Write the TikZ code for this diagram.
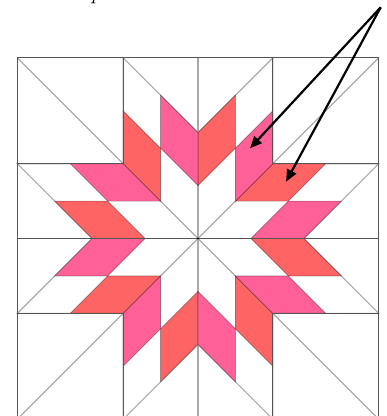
\documentclass[tikz,border=0pt]{standalone}
\usepackage{tikz}
\usetikzlibrary{arrows.meta}
\definecolor{corail}{RGB}{255,100,100}
\definecolor{rose}{RGB}{255,96,152}
\definecolor{couture}{RGB}{85,85,85}
\definecolor{rayon}{RGB}{170,170,170}

\begin{document}
\begin{tikzpicture}[x=52.9pt, y=52.9pt,
    seamline/.style={couture, line width=0.9pt},
    spokeline/.style={rayon, line width=1.1pt},
    patch/.style={draw=black, draw opacity=0.35, line width=0.7pt},
    pointer/.style={line width=2.2pt, -{Triangle[length=12pt, width=10pt]}}]
  \useasboundingbox (-3.743,-3.355) rectangle (3.554,4.509);
  % Diagonales et rayon vertical
  \draw[spokeline] (-3.4142,-3.4142) -- (3.4142,3.4142);
  \draw[spokeline] (-3.4142,3.4142) -- (3.4142,-3.4142);
  \draw[spokeline, line width=1.8pt] (0,-3.4142) -- (0,3.4142);
  % Contour de l'etoile
  \foreach \k in {0,...,7}
    \draw[spokeline, rotate=45*\k] (2,0) -- (3.4142,1.4142) -- (1.4142,1.4142);
  % Losanges colores
  \foreach \k in {0,...,7} {
    \filldraw[fill=corail, patch, rotate=45*\k]
      (0.7071,0.7071) -- (1.4142,1.4142) -- (2.4142,1.4142) -- (1.7071,0.7071) -- cycle;
    \filldraw[fill=rose, patch, rotate=45*\k]
      (1,0) -- (2,0) -- (2.7071,0.7071) -- (1.7071,0.7071) -- cycle;
  }
  % Coutures du bloc
  \draw[seamline] (-3.4142,-3.4142) rectangle (3.4142,3.4142);
  \draw[seamline] (-3.4142,0) -- (3.4142,0);
  \foreach \sx in {-1,1}
    \foreach \sy in {-1,1}
      \draw[seamline] (3.4142*\sx,1.4142*\sy) -- (1.4142*\sx,1.4142*\sy) -- (1.4142*\sx,3.4142*\sy);
  \fill (0,0) circle (1.1pt);
  % Fleches
  \coordinate (src) at (3.454,4.371);
  \coordinate (pinkpt) at (0.983,1.705);
  \coordinate (coralpt) at (1.664,1.074);
  \draw[pointer] (src) -- (pinkpt);
  \draw[pointer] (src) -- (coralpt);
  % Texte coupe
  \node[anchor=base west, inner sep=0pt, font=\itshape\fontsize{22}{22}\selectfont] (lbl) at (-2.03,4.515) {p};
\end{tikzpicture}
\end{document}
